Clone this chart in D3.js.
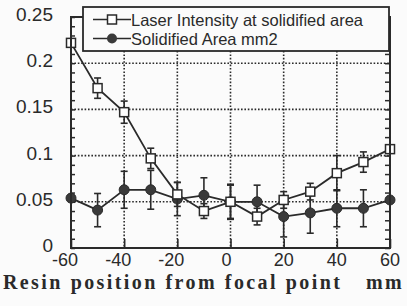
<!DOCTYPE html>
<html><head><meta charset="utf-8">
<script src="https://cdn.jsdelivr.net/npm/d3@7"></script>
<style>
html,body{margin:0;padding:0;background:#fbfbfb;}
svg{display:block;}
</style></head>
<body>
<svg id="c" width="407" height="306"></svg>
<script>
// Data
const positions = [-60,-50,-40,-30,-20,-10,0,10,20,30,40,50,60];
const laserIntensity = [0.222,0.173,0.147,0.097,0.058,0.040,0.050,0.034,0.052,0.061,0.081,0.093,0.107];
const laserErr =       [0.004,0.011,0.012,0.011,0.013,0.008,0.018,0.009,0.009,0.009,0.019,0.011,0.004];
const solidArea =      [0.054,0.041,0.063,0.063,0.053,0.057,0.050,0.050,0.034,0.038,0.043,0.043,0.052];
const solidErr =       [0.002,0.018,0.020,0.021,0.018,0.019,0.019,0.018,0.022,0.022,0.020,0.020,0.002];
const xTicks = [-60,-40,-20,0,20,40,60];
const yTicks = [0,0.05,0.1,0.15,0.2,0.25];
const yTickLabels = ["0","0.05","0.1","0.15","0.2","0.25"];
const seriesNames = ["Laser Intensity at solidified area","Solidified Area mm2"];
const xTitle = "Resin position from focal point   mm";

const svg = d3.select("#c");
const L=71, R=390, T=17, B=248;
const x = d3.scaleLinear().domain([-60,60]).range([L,R]);
const y = d3.scaleLinear().domain([0,0.25]).range([B,T]);
const ink = "#2a2a2a";

// grid
const g = svg.append("g");
g.selectAll(".hg").data([0.05,0.1,0.15,0.2]).join("line")
  .attr("x1",L).attr("x2",R).attr("y1",d=>y(d)).attr("y2",d=>y(d))
  .attr("stroke",ink).attr("stroke-width",1.6).attr("stroke-dasharray","1.6,1.8");
g.selectAll(".vg").data([-40,-20,0,20,40]).join("line")
  .attr("y1",T).attr("y2",B).attr("x1",d=>x(d)).attr("x2",d=>x(d))
  .attr("stroke",ink).attr("stroke-width",1.6).attr("stroke-dasharray","1.6,1.8");

// axes with inward ticks
const minorY = d3.range(0,0.2501,0.01);
svg.append("g").attr("transform",`translate(${L},0)`)
  .call(d3.axisRight(y).tickValues(minorY).tickSize(4).tickFormat(""))
  .call(a=>{a.select(".domain").remove(); a.selectAll("line").attr("stroke",ink).attr("stroke-width",1.5);});
svg.append("g").attr("transform",`translate(${R},0)`)
  .call(d3.axisLeft(y).tickValues(minorY).tickSize(5).tickFormat(""))
  .call(a=>{a.select(".domain").remove(); a.selectAll("line").attr("stroke",ink).attr("stroke-width",1.5);});
svg.append("g").attr("transform",`translate(0,${B})`)
  .call(d3.axisTop(x).tickValues(xTicks).tickSize(9).tickFormat(""))
  .call(a=>{a.select(".domain").remove(); a.selectAll("line").attr("stroke",ink).attr("stroke-width",1.6);});

// y tick labels
svg.append("g").selectAll("text").data(yTicks).join("text")
  .attr("x",53).attr("y",d=>y(d)+4)
  .attr("text-anchor","end")
  .attr("font-family","'Liberation Sans', Arial, sans-serif").attr("font-size",19)
  .attr("fill",ink).text((d,i)=>yTickLabels[i]);
// x tick labels
svg.append("g").selectAll("text").data(xTicks).join("text")
  .attr("x",d=>x(d)+(d<0?-6:(d===0?-4:0))).attr("y",266)
  .attr("text-anchor","middle")
  .attr("font-family","'Liberation Sans', Arial, sans-serif").attr("font-size",18)
  .attr("fill",ink).text(d=>d);
// x title
const tt = svg.append("text").attr("x",3).attr("y",289)
  .attr("font-family","'Liberation Serif','Times New Roman',serif").attr("font-weight","bold")
  .attr("font-size",20).attr("fill",ink)
  .style("white-space","pre").style("letter-spacing","2.4px")
  .text(xTitle);
{
  const natural = tt.node().getComputedTextLength();
  const nSpaces = (xTitle.match(/ /g)||[]).length;
  const ws = (401 - natural)/nSpaces;
  tt.style("word-spacing", ws+"px");
}

// series
function drawSeries(vals, errs, marker){
  const pts = positions.map((p,i)=>({x:p,v:vals[i],e:errs[i]}));
  const grp = svg.append("g");
  grp.append("path").datum(pts)
    .attr("d",d3.line().x(d=>x(d.x)).y(d=>y(d.v)))
    .attr("fill","none").attr("stroke",ink).attr("stroke-width",1.8);
  const eb = grp.selectAll(".eb").data(pts).join("g");
  eb.append("line").attr("x1",d=>x(d.x)).attr("x2",d=>x(d.x))
    .attr("y1",d=>y(d.v+d.e)).attr("y2",d=>y(d.v-d.e))
    .attr("stroke",ink).attr("stroke-width",1.6);
  [1,-1].forEach(s=>{
    eb.append("line").attr("x1",d=>x(d.x)-3.5).attr("x2",d=>x(d.x)+3.5)
      .attr("y1",d=>y(d.v+s*d.e)).attr("y2",d=>y(d.v+s*d.e))
      .attr("stroke",ink).attr("stroke-width",1.6);
  });
  if(marker==="square"){
    grp.selectAll(".m").data(pts).join("rect")
      .attr("x",d=>x(d.x)-4.5).attr("y",d=>y(d.v)-4.5).attr("width",9).attr("height",9)
      .attr("fill","#fff").attr("stroke",ink).attr("stroke-width",1.5);
  } else {
    grp.selectAll(".m").data(pts).join("circle")
      .attr("cx",d=>x(d.x)).attr("cy",d=>y(d.v)).attr("r",5)
      .attr("fill","#3a3a3a").attr("stroke",ink).attr("stroke-width",1);
  }
}
drawSeries(solidArea, solidErr, "circle");
drawSeries(laserIntensity, laserErr, "square");

// frame
svg.append("rect").attr("x",L).attr("y",T).attr("width",R-L).attr("height",B-T)
  .attr("fill","none").attr("stroke",ink).attr("stroke-width",2);

// legend
const lg = svg.append("g");
lg.append("rect").attr("x",83).attr("y",7).attr("width",306).attr("height",44)
  .attr("fill","#fbfbfb").attr("stroke",ink).attr("stroke-width",1.8);
const rows=[19.5,38.5];
rows.forEach((ry,i)=>{
  lg.append("line").attr("x1",93).attr("x2",131).attr("y1",ry).attr("y2",ry)
    .attr("stroke",ink).attr("stroke-width",1.6);
  if(i===0){
    lg.append("rect").attr("x",107.5).attr("y",ry-4.5).attr("width",9).attr("height",9)
      .attr("fill","#fff").attr("stroke",ink).attr("stroke-width",1.5);
  } else {
    lg.append("circle").attr("cx",112).attr("cy",ry).attr("r",5).attr("fill","#3a3a3a");
  }
  lg.append("text").attr("x",131).attr("y",ry+6)
    .attr("font-family","'Liberation Sans', Arial, sans-serif").attr("font-size",16.5)
    .attr("fill",ink).text(seriesNames[i]);
});
</script>
</body></html>
